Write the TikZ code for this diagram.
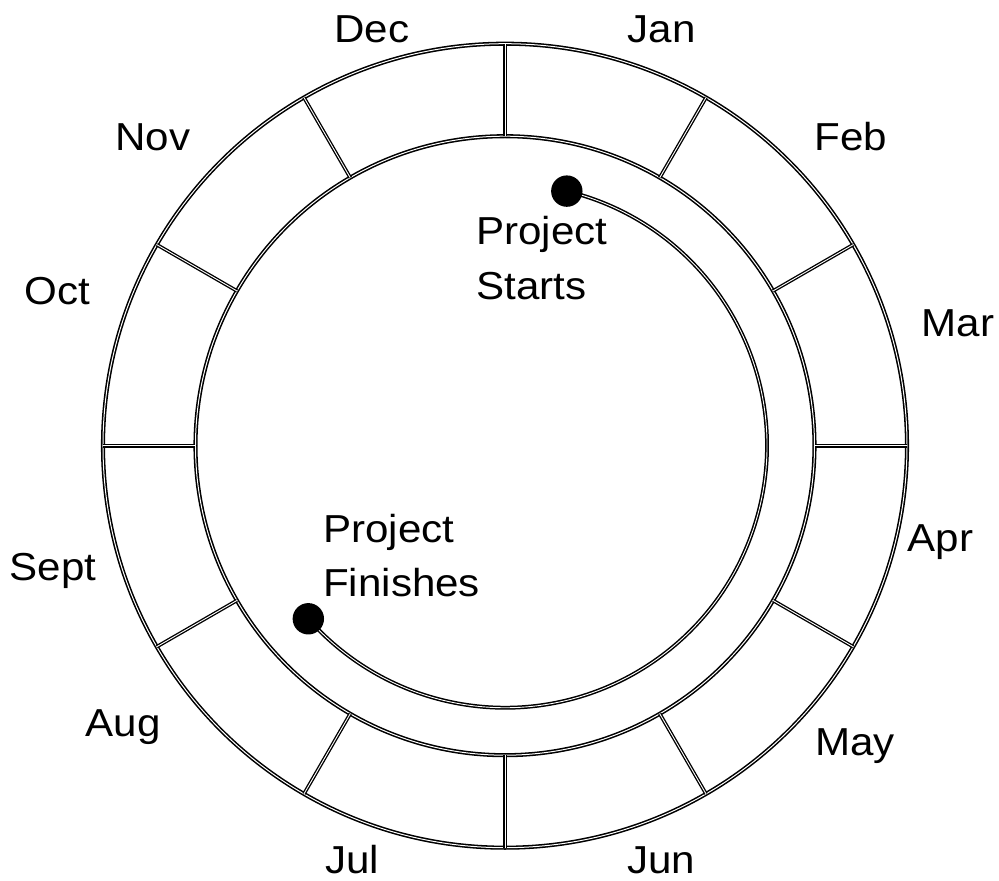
\documentclass[tikz,border=0pt]{standalone}
\usepackage{fontspec}
\setmainfont{Liberation Sans}
\usepackage{graphicx}
\tikzset{
  x=1pt, y=1pt,
  ring/.style={draw=black, line width=1.55pt, double=white, double distance=1.0pt},
  divider/.style={draw=black, line width=1.35pt, double=white, double distance=0.9pt},
  arcline/.style={draw=black, line width=1.5pt, double=white, double distance=0.9pt},
  lbl/.style={inner sep=0pt, anchor=base, font=\fontsize{39}{47}\selectfont},
  lblw/.style={lbl, anchor=base west},
}
\newcommand{\widetxt}[1]{\scalebox{1.08}[1]{#1}}
\begin{document}
\begin{tikzpicture}
% origin at ring centre (505,445.7) of the 999x881 reference
\useasboundingbox (-505,-435.3) rectangle (494,445.7);
\coordinate (c) at (0,0);
\draw[ring] (c) circle[radius=402];
\draw[ring] (c) circle[radius=309.5];
\foreach \a in {0,30,...,330}
  \draw[divider] (\a:309.5) -- (\a:402);
% project arc
\coordinate (start) at (76.35:262);
\coordinate (finish) at (-138.65:262);
\draw[arcline] (start) arc[start angle=76.35, end angle=-138.65, radius=262];
\fill (start) circle[radius=15.7];
\fill (finish) circle[radius=15.7];
% month labels (base centre)
\node[lbl] (dec)  at (-133,402.7) {\widetxt{Dec}};
\node[lbl] (jan)  at (156.5,402.7) {\widetxt{Jan}};
\node[lbl] (nov)  at (-352,295) {\widetxt{Nov}};
\node[lbl] (feb)  at (346,295) {\widetxt{Feb}};
\node[lbl] (oct)  at (-447.5,140.7) {\widetxt{Oct}};
\node[lbl] (mar)  at (453,109) {\widetxt{Mar}};
\node[lbl] (sept) at (-452,-135) {\widetxt{Sept}};
\node[lbl] (apr)  at (435.5,-106) {\widetxt{Apr}};
\node[lbl] (aug)  at (-382,-291) {\widetxt{Aug}};
\node[lbl] (may)  at (350,-310) {\widetxt{May}};
\node[lbl] (jul)  at (-153,-428) {\widetxt{Jul}};
\node[lbl] (jun)  at (156,-428) {\widetxt{Jun}};
% project labels
\node[lblw] (ps1) at (-29,200.7) {\widetxt{Project}};
\node[lblw] (ps2) at (-29,145.7) {\widetxt{Starts}};
\node[lblw] (pf1) at (-182,-97) {\widetxt{Project}};
\node[lblw] (pf2) at (-182,-151) {\widetxt{Finishes}};
\end{tikzpicture}
\end{document}
